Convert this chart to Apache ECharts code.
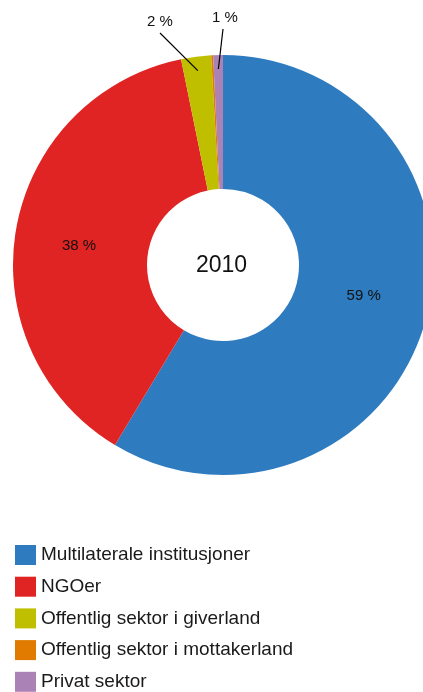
<!DOCTYPE html>
<html>
<head>
<meta charset="utf-8">
<script src="https://cdn.jsdelivr.net/npm/echarts@6/dist/echarts.min.js"></script>
<style>html,body{margin:0;padding:0;background:#fff;overflow:hidden;}#c{width:423px;height:720px;}</style>
</head>
<body>
<div id="c"></div>
<script>
var categories = ['Multilaterale institusjoner', 'NGOer', 'Offentlig sektor i giverland', 'Offentlig sektor i mottakerland', 'Privat sektor'];
var values = [58.6, 38.2, 2.3, 0.15, 0.75];
var colors = ['#2e7bbf', '#e02424', '#bfbf00', '#e07b00', '#ab82b5'];
var yearLabel = '2010';

var FONT = '"Liberation Sans", Arial, sans-serif';
var CENTER = [223, 265];
var R_IN = 76, R_OUT = 210;
var chart = echarts.init(document.getElementById('c'), null, {renderer: 'canvas'});

var fmt = function (p) { return Math.round(p.value) + ' %'; };

var mainData = categories.map(function (name, i) {
  var item = {name: name, value: values[i], itemStyle: {color: colors[i]}};
  if (i >= 2) { item.label = {show: false}; }
  return item;
});
var outerData = categories.map(function (name, i) {
  var show = (i === 2 || i === 4);
  return {name: name, value: values[i],
    label: {show: show}, labelLine: {show: show}};
});

function inward(pt, k) {
  return [CENTER[0] + (pt[0] - CENTER[0]) * k, CENTER[1] + (pt[1] - CENTER[1]) * k];
}

chart.setOption({
  animation: false,
  legend: {
    orient: 'vertical',
    left: 15,
    top: 545,
    padding: 0,
    itemWidth: 21,
    itemHeight: 20,
    itemGap: 11.7,
    icon: 'rect',
    textStyle: {fontFamily: FONT, fontSize: 19, color: '#1a1a1a'},
    data: categories.map(function (n, i) { return {name: n, itemStyle: {color: colors[i]}}; })
  },
  graphic: [{
    type: 'text',
    left: 223 - 27,
    top: 265 - 11,
    style: {text: yearLabel, font: '23px ' + FONT, fill: '#111'}
  }],
  series: [{
    type: 'pie',
    z: 2,
    center: CENTER,
    radius: [R_IN, R_OUT],
    startAngle: 90,
    clockwise: true,
    silent: true,
    label: {
      show: true,
      position: 'inside',
      fontFamily: FONT,
      fontSize: 15,
      color: '#111',
      formatter: fmt
    },
    labelLine: {show: false},
    labelLayout: function (p) {
      if (p.dataIndex === 0) return {dy: -8};
      if (p.dataIndex === 1) return {dy: 6};
    },
    data: mainData
  }, {
    type: 'pie',
    z: 5,
    center: CENTER,
    radius: [R_IN, R_OUT],
    startAngle: 90,
    clockwise: true,
    silent: true,
    legendHoverLink: false,
    itemStyle: {color: 'rgba(0,0,0,0)'},
    label: {
      show: true,
      position: 'outside',
      fontFamily: FONT,
      fontSize: 15,
      color: '#111',
      formatter: fmt
    },
    labelLine: {show: true, lineStyle: {color: '#000', width: 1.2}},
    labelLayout: function (p) {
      var k = 196 / R_OUT;
      if (p.dataIndex === 2 && p.labelLinePoints) {
        return {x: 160, y: 22, align: 'center', verticalAlign: 'middle',
          labelLinePoints: [inward(p.labelLinePoints[0], k), [160, 33]]};
      }
      if (p.dataIndex === 4 && p.labelLinePoints) {
        return {x: 225, y: 18, align: 'center', verticalAlign: 'middle',
          labelLinePoints: [inward(p.labelLinePoints[0], k), [223, 29]]};
      }
    },
    data: outerData
  }]
});
</script>
</body>
</html>
